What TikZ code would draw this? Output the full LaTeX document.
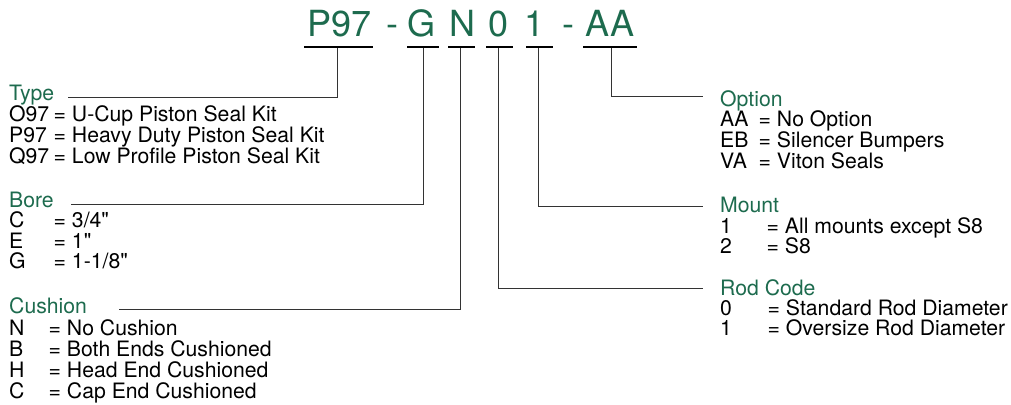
\documentclass[tikz,border=0pt]{standalone}
\usepackage{fontspec}
\setmainfont{TeX Gyre Heros}[Ligatures=TeXOff]
\usetikzlibrary{calc}
\definecolor{codegreen}{HTML}{1D6B4E}
\definecolor{linegray}{HTML}{333333}
\tikzset{
  codetxt/.style={inner sep=0pt, anchor=base, text=codegreen, font=\fontsize{36}{36}\selectfont},
  hdr/.style={inner sep=0pt, anchor=base west, text=codegreen, font=\fontsize{21.2}{21}\selectfont},
  body/.style={inner sep=0pt, anchor=base west, text=black, font=\fontsize{21.2}{21}\selectfont},
  uline/.style={line width=2pt, black},
  conn/.style={line width=1pt, linegray},
}
\begin{document}
\begin{tikzpicture}[x=1pt,y=-1pt]
\useasboundingbox (0,0) rectangle (1011,404);
% code
\node[codetxt] (cP) at (339.5,37) {P97};
\node[codetxt] (d1) at (392,37) {-};
\node[codetxt] (cG) at (421.5,37) {G};
\node[codetxt] (cN) at (462.5,37) {N};
\node[codetxt] (c0) at (498.5,37) {0};
\node[codetxt] (c1) at (534,37) {1};
\node[codetxt] (d2) at (568,37) {-};
\node[codetxt] (cA) at (610,37) {AA};
% underlines
\draw[uline] (304,47.5) -- (373,47.5);
\draw[uline] (407,47.5) -- (439,47.5);
\draw[uline] (448,47.5) -- (475,47.5);
\draw[uline] (486,47.5) -- (513,47.5);
\draw[uline] (526,47.5) -- (553,47.5);
\draw[uline] (583,47.5) -- (637,47.5);
\coordinate (uP) at (337,48.5);
\coordinate (uG) at (423,48.5);
\coordinate (uN) at (460,48.5);
\coordinate (u0) at (498,48.5);
\coordinate (u1) at (538,48.5);
\coordinate (uA) at (611,48.5);
% line ends
\coordinate (eType) at (68,97);
\coordinate (eBore) at (71,204);
\coordinate (eCush) at (119,309);
\coordinate (eOpt) at (703,96.5);
\coordinate (eMount) at (703,206);
\coordinate (eRod) at (703,288.5);
\draw[conn] (uP) |- (eType);
\draw[conn] (uG) |- (eBore);
\draw[conn] (uN) |- (eCush);
\draw[conn] (uA) |- (eOpt);
\draw[conn] (u1) |- (eMount);
\draw[conn] (u0) |- (eRod);
% left blocks
\node[hdr] (hType) at (9,100) {Type};
\node[body] (kT1) at (9,121) {O97}; \node[body] (vT1) at (53.5,121) {= U-Cup Piston Seal Kit};
\node[body] (kT2) at (9,142) {P97}; \node[body] (vT2) at (53.5,142) {= Heavy Duty Piston Seal Kit};
\node[body] (kT3) at (9,163) {Q97}; \node[body] (vT3) at (53.5,163) {= Low Profile Piston Seal Kit};
\node[hdr] (hBore) at (9,207) {Bore};
\node[body] (kB1) at (9,227.5) {C}; \node[body] (vB1) at (53.5,227.5) {= 3/4"};
\node[body] (kB2) at (9,248) {E}; \node[body] (vB2) at (53.5,248) {= 1"};
\node[body] (kB3) at (9,268.5) {G}; \node[body] (vB3) at (53.5,268.5) {= 1-1/8"};
\node[hdr] (hCush) at (9,313) {Cushion};
\node[body] (kC1) at (9,335) {N}; \node[body] (vC1) at (48.5,335) {= No Cushion};
\node[body] (kC2) at (9,356) {B}; \node[body] (vC2) at (48.5,356) {= Both Ends Cushioned};
\node[body] (kC3) at (9,377) {H}; \node[body] (vC3) at (48.5,377) {= Head End Cushioned};
\node[body] (kC4) at (9,398) {C}; \node[body] (vC4) at (48.5,398) {= Cap End Cushioned};
% right blocks
\node[hdr] (hOpt) at (720,106) {Option};
\node[body] (kO1) at (720,126.5) {AA}; \node[body] (vO1) at (758.5,126.5) {= No Option};
\node[body] (kO2) at (720,147) {EB}; \node[body] (vO2) at (758.5,147) {= Silencer Bumpers};
\node[body] (kO3) at (720,168) {VA}; \node[body] (vO3) at (758.5,168) {= Viton Seals};
\node[hdr] (hMount) at (720,212) {Mount};
\node[body] (kM1) at (720,233) {1}; \node[body] (vM1) at (766.5,233) {= All mounts except S8};
\node[body] (kM2) at (720,253.5) {2}; \node[body] (vM2) at (766.5,253.5) {= S8};
\node[hdr] (hRod) at (720,295) {Rod Code};
\node[body] (kR1) at (720,315) {0}; \node[body] (vR1) at (767.5,315) {= Standard Rod Diameter};
\node[body] (kR2) at (720,335) {1}; \node[body] (vR2) at (767.5,335) {= Oversize Rod Diameter};
\end{tikzpicture}
\end{document}
